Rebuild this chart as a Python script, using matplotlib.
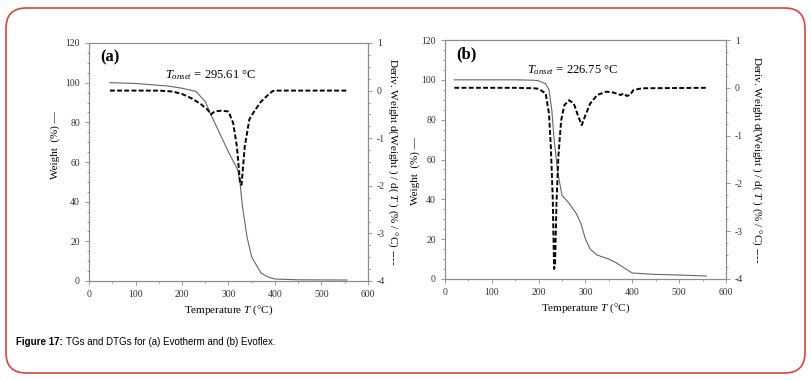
import numpy as np
import matplotlib.pyplot as plt
from matplotlib.patches import FancyBboxPatch
from matplotlib.ticker import MultipleLocator, AutoMinorLocator

# (a) Evotherm
a_tg_T = [45, 100, 170, 200, 230, 250, 260, 280, 300, 320, 325, 330, 340, 350, 370, 385, 400, 450, 555]
a_tg_w = [100, 99.6, 98.3, 97.2, 95.6, 90.5, 85, 75, 65, 56, 49, 37.5, 22, 12, 4, 2, 1.0, 0.6, 0.5]
a_dtg_T = [45, 150, 180, 200, 220, 240, 255, 262, 270, 285, 300, 310, 318, 325, 328, 335, 345, 355, 370, 385, 395, 400, 555]
a_dtg_d = [0, 0, -0.02, -0.07, -0.16, -0.28, -0.40, -0.50, -0.44, -0.42, -0.44, -0.68, -1.17, -1.95, -1.98, -1.17, -0.60, -0.44, -0.23, -0.09, -0.01, 0, 0]

# (b) Evoflex
b_tg_T = [20, 150, 190, 200, 215, 222, 228, 233, 240, 245, 250, 265, 280, 290, 300, 310, 325, 350, 365, 385, 400, 450, 500, 558]
b_tg_w = [100, 100, 99.8, 99.5, 98, 95, 85, 70, 55, 48, 42, 38, 33, 28, 20, 15, 12, 10, 8.2, 5.2, 3, 2.3, 2.0, 1.5]
b_dtg_T = [20, 150, 190, 200, 215, 222, 226, 230, 233, 235, 238, 242, 248, 255, 265, 275, 285, 292, 300, 310, 325, 345, 360, 375, 382, 388, 395, 402, 420, 560]
b_dtg_d = [0, 0, -0.01, -0.02, -0.12, -0.54, -1.24, -2.29, -3.79, -3.68, -2.42, -1.45, -0.68, -0.36, -0.26, -0.33, -0.61, -0.78, -0.57, -0.33, -0.15, -0.08, -0.10, -0.15, -0.12, -0.17, -0.15, -0.05, -0.01, 0]

serif = 'Liberation Serif'
gray = '#8c8c8c'
cap_font = 'Liberation Sans'

plt.rcParams['axes.unicode_minus'] = False
plt.rcParams['mathtext.fontset'] = 'custom'
plt.rcParams['mathtext.it'] = 'Liberation Serif:italic'
plt.rcParams['mathtext.rm'] = 'Liberation Serif'

fig = plt.figure(figsize=(8.11, 3.8), dpi=100)

box = FancyBboxPatch((6/811, 7/380), 799/811, 365/380,
                     boxstyle="round,pad=0,rounding_size=0.025",
                     transform=fig.transFigure, fill=False,
                     edgecolor='#d9443c', linewidth=1.2, mutation_aspect=811/380)
fig.patches.append(box)


def panel(rect, tg_T, tg_w, dtg_T, dtg_d, letter, onset, ylab_xy, rlab_x):
    ax = fig.add_axes(rect)
    ax.plot(tg_T, tg_w, color='#666666', lw=0.8)
    ax.set_xlim(0, 600)
    ax.set_ylim(0, 120)
    ax.xaxis.set_major_locator(MultipleLocator(100))
    ax.yaxis.set_major_locator(MultipleLocator(20))
    ax.xaxis.set_minor_locator(AutoMinorLocator(2))
    ax.yaxis.set_minor_locator(AutoMinorLocator(4))
    ax2 = ax.twinx()
    ax2.plot(dtg_T, dtg_d, color='black', lw=1.4, ls=(0, (2.5, 1.2)))
    ax2.set_ylim(-4, 1)
    ax2.yaxis.set_major_locator(MultipleLocator(1))
    ax2.yaxis.set_minor_locator(AutoMinorLocator(4))
    for a in (ax, ax2):
        for s in a.spines.values():
            s.set_color(gray)
            s.set_linewidth(0.8)
        a.tick_params(which='both', colors=gray, labelcolor='#333333',
                      labelsize=7, width=0.6)
        a.tick_params(which='major', length=3)
        a.tick_params(which='minor', length=1.5)
        for lab in a.get_xticklabels() + a.get_yticklabels():
            lab.set_fontfamily(serif)
    ax.set_xlabel('Temperature $\\mathit{T}$ (°C)', family=serif, fontsize=8, labelpad=3)
    ax.text(ylab_xy[0], ylab_xy[1], 'Weight  (%) —', transform=ax.transAxes, rotation=90,
            ha='center', va='center', family=serif, fontsize=8)
    ax2.text(rlab_x, 0.5, 'Deriv. Weight d(Weight ) / d( $\\mathit{T}$ ) (% / °C) ----',
             transform=ax2.transAxes, rotation=270, ha='center', va='center',
             family=serif, fontsize=8)
    ax.text(0.04, 0.94, letter, transform=ax.transAxes, family=serif,
            fontsize=12, fontweight='bold', va='center')
    ax.text(onset[0], onset[1], onset[2], family=serif, fontsize=9, va='center')
    return ax


panel([89/811, 99/380, 279/811, 238/380], a_tg_T, a_tg_w, a_dtg_T, a_dtg_d,
      '(a)', (163, 104, '$T_{onset}$ = 295.61 °C'), (-0.122, 0.57), 1.09)
panel([445/811, 101/380, 281/811, 239/380], b_tg_T, b_tg_w, b_dtg_T, b_dtg_d,
      '(b)', (175, 105, '$T_{onset}$ = 226.75 °C'), (-0.107, 0.45), 1.11)

t1 = fig.text(16/811, 1 - 342/380, 'Figure 17:', family=cap_font, fontsize=7,
              fontweight='bold', va='center')
fig.canvas.draw()
bb = t1.get_window_extent()
fig.text((bb.x1 + 3)/811, 1 - 342/380, 'TGs and DTGs for (a) Evotherm and (b) Evoflex.',
         family=cap_font, fontsize=7, va='center')

fig.savefig('out.png', dpi=100)
